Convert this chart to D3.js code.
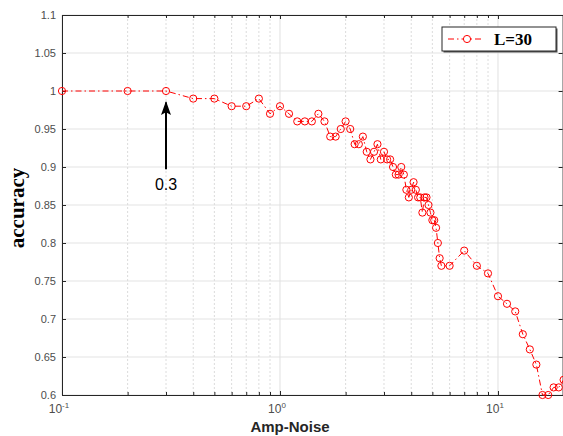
<!DOCTYPE html>
<html lang="en">
<head>
    <meta charset="utf8">
    <title>Accuracy vs Amp-Noise</title>
    <script src="https://d3js.org/d3.v7.min.js"></script>
    <style>
        body { margin: 0; background: #fff; }
        svg { display: block; }
    </style>
</head>
<body>
    <svg id="chart" width="563" height="436"></svg>
    <script>
        // data
        const noise = [0.1, 0.2, 0.3, 0.4, 0.5, 0.6, 0.7, 0.8, 0.9,
            1.0, 1.1, 1.2, 1.3, 1.4, 1.5, 1.6, 1.7, 1.8, 1.9,
            2.0, 2.1, 2.2, 2.3, 2.4, 2.5, 2.6, 2.7, 2.8, 2.9,
            3.0, 3.1, 3.2, 3.3, 3.4, 3.5, 3.6, 3.7, 3.8, 3.9,
            4.0, 4.1, 4.2, 4.3, 4.4, 4.5, 4.6, 4.7, 4.8, 4.9,
            5.0, 5.1, 5.2, 5.3, 5.4, 5.5,
            6, 7, 8, 9, 10, 11, 12, 13, 14, 15, 16, 17, 18, 19, 20];
        const accuracy = [1.00, 1.00, 1.00, 0.99, 0.99, 0.98, 0.98, 0.99, 0.97,
            0.98, 0.97, 0.96, 0.96, 0.96, 0.97, 0.96, 0.94, 0.94, 0.95,
            0.96, 0.95, 0.93, 0.93, 0.94, 0.92, 0.91, 0.92, 0.93, 0.91,
            0.92, 0.91, 0.91, 0.90, 0.89, 0.89, 0.90, 0.89, 0.87, 0.86,
            0.87, 0.88, 0.87, 0.86, 0.86, 0.84, 0.86, 0.86, 0.85, 0.84,
            0.83, 0.83, 0.82, 0.80, 0.78, 0.77,
            0.77, 0.79, 0.77, 0.76, 0.73, 0.72, 0.71, 0.68, 0.66, 0.64, 0.60, 0.60, 0.61, 0.61, 0.62];
        const yTicks = [0.6, 0.65, 0.7, 0.75, 0.8, 0.85, 0.9, 0.95, 1, 1.05, 1.1];
        const xMajor = [0.1, 1, 10];
        const xExp = ["-1", "0", "1"];
        const seriesName = "L=30";
        const marked = 0.3;

        const svg = d3.select("#chart");
        const pLeft = 62, pRight = 563.6, pTop = 15, pBottom = 395;

        const x = d3.scaleLog().domain([0.1, 20]).range([pLeft, pRight]);
        const y = d3.scaleLinear().domain([0.6, 1.1]).range([pBottom, pTop]);

        const minor = [];
        [0.1, 1, 10].forEach(d => {
            for (let k = 2; k <= 9; k++) if (d * k <= 20) minor.push(d * k);
        });
        minor.push(20);

        // grid
        const grid = svg.append("g");
        grid.selectAll(".ym").data(yTicks).enter().append("line")
            .attr("x1", pLeft).attr("x2", pRight)
            .attr("y1", d => y(d)).attr("y2", d => y(d))
            .attr("stroke", "#e3e3e3").attr("stroke-width", 1);
        grid.selectAll(".xmin").data(minor).enter().append("line")
            .attr("x1", d => x(d)).attr("x2", d => x(d))
            .attr("y1", pTop).attr("y2", pBottom)
            .attr("stroke", "#dcdcdc").attr("stroke-dasharray", "2,2");
        grid.selectAll(".xmaj").data(xMajor).enter().append("line")
            .attr("x1", d => x(d)).attr("x2", d => x(d))
            .attr("y1", pTop).attr("y2", pBottom)
            .attr("stroke", "#e0e0e0");

        // axes
        const yAxis = svg.append("g").attr("transform", `translate(${pLeft},0)`)
            .call(d3.axisLeft(y).tickValues(yTicks).tickSize(-4).tickPadding(6)
                .tickFormat(d => String(+d.toFixed(2))));
        const yAxisR = svg.append("g").attr("transform", `translate(${pRight - 1},0)`)
            .call(d3.axisRight(y).tickValues(yTicks).tickSize(-4).tickFormat(""));
        const xAxis = svg.append("g").attr("transform", `translate(0,${pBottom})`)
            .call(d3.axisBottom(x).tickValues(xMajor.concat(minor)).tickSize(-4).tickFormat(""));
        const xAxisT = svg.append("g").attr("transform", `translate(0,${pTop})`)
            .call(d3.axisTop(x).tickValues(xMajor.concat(minor)).tickSize(-4).tickFormat(""));
        xAxis.selectAll(".tick line").filter(d => !xMajor.includes(d)).attr("y2", -3);
        xAxisT.selectAll(".tick line").filter(d => !xMajor.includes(d)).attr("y2", 3);

        [yAxis, yAxisR, xAxis, xAxisT].forEach(a => {
            a.select(".domain").attr("stroke", "#262626");
            a.selectAll(".tick line").attr("stroke", "#262626");
        });
        yAxis.selectAll("text").attr("fill", "#4d4d4d")
            .attr("font-family", "Liberation Sans, Arial, sans-serif").attr("font-size", 11);

        // x tick labels 10^n
        const xl = svg.append("g").attr("font-family", "Liberation Sans, Arial, sans-serif")
            .attr("fill", "#4d4d4d");
        xMajor.forEach((d, i) => {
            const t = xl.append("text").attr("x", x(d) - 3).attr("y", pBottom + 18)
                .attr("text-anchor", "middle").attr("font-size", 12);
            t.append("tspan").text("10");
            t.append("tspan").attr("dy", -5).attr("font-size", 8).text(xExp[i]);
        });

        // axis titles
        svg.append("text").attr("x", 290).attr("y", 432)
            .attr("text-anchor", "middle")
            .attr("font-family", "Liberation Sans, Arial, sans-serif")
            .attr("font-weight", "bold").attr("font-size", 15).attr("fill", "#262626")
            .text("Amp-Noise");
        svg.append("text")
            .attr("transform", "translate(24,208) rotate(-90)")
            .attr("text-anchor", "middle")
            .attr("font-family", "Liberation Serif, Times New Roman, serif")
            .attr("font-weight", "bold").attr("font-size", 21).attr("fill", "#000")
            .text("accuracy");

        // series
        const pts = noise.map((d, i) => [d, accuracy[i]]);
        const line = d3.line().x(d => x(d[0])).y(d => y(d[1]));
        svg.append("path").datum(pts)
            .attr("d", line).attr("fill", "none")
            .attr("stroke", "#ff0000").attr("stroke-width", 1)
            .attr("stroke-dasharray", "6,3,1.5,3");
        svg.selectAll(".pt").data(pts).enter().append("circle")
            .attr("cx", d => x(d[0])).attr("cy", d => y(d[1])).attr("r", 3.6)
            .attr("fill", "none").attr("stroke", "#ff0000").attr("stroke-width", 1);

        // annotation arrow
        const ax = x(marked);
        svg.append("defs").append("marker").attr("id", "head")
            .attr("viewBox", "0 0 10 10").attr("refX", 9).attr("refY", 5)
            .attr("markerWidth", 14).attr("markerHeight", 10).attr("orient", "auto")
            .attr("markerUnits", "userSpaceOnUse").attr("preserveAspectRatio", "none")
            .append("path").attr("d", "M0,0 L10,5 L0,10 L2,5 z").attr("fill", "#000");
        svg.append("line").attr("x1", ax).attr("x2", ax)
            .attr("y1", y(0.897)).attr("y2", y(0.985))
            .attr("stroke", "#000").attr("stroke-width", 2)
            .attr("marker-end", "url(#head)");
        svg.append("text").attr("x", ax).attr("y", y(0.87))
            .attr("text-anchor", "middle")
            .attr("font-family", "Liberation Sans, Arial, sans-serif")
            .attr("font-size", 16).attr("fill", "#000").text(String(marked));

        // legend
        const lg = svg.append("g").attr("transform", "translate(442,27)");
        lg.append("rect").attr("x", 1.5).attr("y", 1.5).attr("width", 114).attr("height", 24)
            .attr("fill", "#555");
        lg.append("rect").attr("width", 114).attr("height", 24)
            .attr("fill", "#fff").attr("stroke", "#262626");
        lg.append("line").attr("x1", 6).attr("x2", 42).attr("y1", 12).attr("y2", 12)
            .attr("stroke", "#ff0000").attr("stroke-dasharray", "6,3,1.5,3");
        lg.append("circle").attr("cx", 25).attr("cy", 12).attr("r", 3.6)
            .attr("fill", "#fff").attr("stroke", "#ff0000");
        lg.append("text").attr("x", 52).attr("y", 18)
            .attr("font-family", "Liberation Serif, Times New Roman, serif")
            .attr("font-weight", "bold").attr("font-size", 17).text(seriesName);
    </script>
</body>
</html>
